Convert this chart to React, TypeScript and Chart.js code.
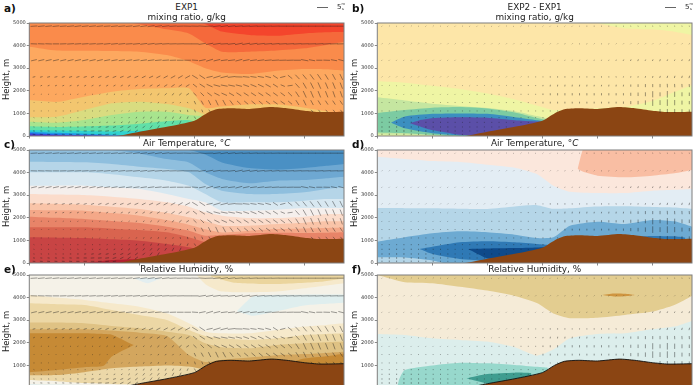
import React, { useEffect, useRef } from "react";
import { Chart, registerables } from "chart.js";

Chart.register(...registerables);

const FONT = "'DejaVu Sans', sans-serif";
const KM = [0, 50, 100, 150, 200, 250, 290, 320, 350, 400, 450, 500, 540, 572];
const TOP = [5200, 5200, 5200, 5200, 5200, 5200, 5200, 5200, 5200, 5200, 5200, 5200, 5200, 5200];

const TERRAIN_KM = [0, 120, 159, 200, 250, 300, 322, 340, 365, 400, 440, 468, 500, 528, 572];
const TERRAIN_H = [-60, -40, 0, 190, 410, 680, 1000, 1180, 1225, 1195, 1280, 1225, 1120, 1060, 1075];

// a) mixing ratio, EXP1
const A1 = [5100, 5100, 5100, 5100, 5100, 5100, 5100, 4950, 4620, 4470, 4440, 4540, 4590, 4600];
const A2 = [5100, 5100, 5100, 5100, 4950, 4720, 4540, 4100, 3730, 3730, 3780, 3880, 4030, 4170];
const A3 = [3950, 3780, 3770, 3760, 3730, 3580, 3310, 3000, 2810, 2740, 2890, 2960, 2950, 2890];
const A4 = [1590, 1510, 1740, 1960, 2080, 2110, 2110, 1250, 1300, 1400, 1400, 1250, 1100, 1000];
const A5 = [830, 850, 1150, 1445, 1520, 1416, 1224, 930, 600, 600, 600, 600, 600, 600];
const A6 = [634, 590, 708, 930, 1077, 1077, 930, 856, 500, 500, 500, 500, 500, 500];
const A7 = [430, 400, 420, 460, 540, 650, 700, 500, 300, 300, 300, 300, 300, 300];
const A8 = [270, 240, 220, 200, 230, 300, 300, 200, 100, 100, 100, 100, 100, 100];
const A9 = [190, 140, 100, 60, 20, 0, 0, 0, 0, 0, 0, 0, 0, 0];
const A10 = [120, 70, 40, 10, 0, 0, 0, 0, 0, 0, 0, 0, 0, 0];
const A11 = [70, 40, 20, 0, 0, 0, 0, 0, 0, 0, 0, 0, 0, 0];
const A_COLORS = ["#f4452c", "#f5693b", "#fa8b4b", "#fda85f", "#f3c66f", "#d9dc80", "#a8e48e", "#62e0a8", "#30d2d0", "#2098e8", "#3050e0", "#5a2cc8"];

// b) mixing ratio, difference
const B_TOP_KM = [400, 450, 500, 540, 572];
const B_TOP = [5000, 4760, 4720, 4617, 4470];
const B1 = [2420, 2360, 2220, 2080, 1880, 1620, 1350, 1150, 1170, 1230, 1290, 1550, 1950, 2250];
const B2 = [1710, 1570, 1430, 1330, 1240, 1100, 880, 700, 500, 500, 500, 500, 500, 500];
const B3 = [1020, 1150, 1250, 1280, 1220, 1040, 800, 640, 400, 400, 400, 400, 400, 400];
const B4_KM = [25, 50, 100, 150, 200, 250, 290, 310];
const B4_UP = [590, 860, 980, 1000, 980, 830, 700, 650];
const B4_LO = [590, 340, 120, 20, 0, 0, 0, 0];
const B5_KM = [59, 80, 100, 150, 200, 250, 290, 305];
const B5_UP = [560, 720, 790, 830, 810, 700, 640, 620];
const B5_LO = [560, 400, 260, 50, 0, 0, 0, 0];
const B6_KM = [0, 50, 100, 130];
const B6 = [150, 120, 50, 0];
const B7 = [70, 50, 10, 0];
const B_COLORS = ["#fde6a8", "#eff5a4", "#c5e6a0", "#7ccba2", "#3b8fc0", "#5b4fa8"];

// c) air temperature, EXP1
const C1 = [5100, 5100, 5100, 5100, 5100, 5100, 5000, 4800, 4450, 4200, 4130, 4200, 4300, 4380];
const C2 = [5100, 5100, 5100, 5000, 4850, 4600, 4450, 4010, 3720, 3530, 3640, 3670, 3750, 3820];
const C3 = [4480, 4470, 4455, 4380, 4263, 4160, 4012, 3496, 3200, 3053, 3053, 3127, 3275, 3350];
const C4 = [4012, 4012, 4012, 3930, 3790, 3643, 3422, 3053, 2685, 2685, 2685, 2758, 2832, 2832];
const C5 = [3422, 3422, 3422, 3350, 3275, 3053, 2832, 2685, 2316, 2316, 2360, 2434, 2434, 2434];
const C6 = [3053, 3030, 3009, 2930, 2832, 2685, 2493, 2242, 2095, 1991, 1991, 2050, 2168, 2168];
const C7 = [2640, 2610, 2581, 2490, 2390, 2212, 2020, 1844, 1652, 1652, 1726, 1785, 1844, 1844];
const C8 = [2345, 2330, 2316, 2210, 2095, 1903, 1696, 1490, 1350, 1430, 1500, 1530, 1550, 1570];
const C9 = [2050, 2000, 1947, 1860, 1770, 1608, 1430, 1210, 1250, 1320, 1340, 1330, 1340, 1360];
const C10 = [1578, 1578, 1578, 1520, 1460, 1357, 1135, 915, 700, 700, 700, 700, 700, 700];
const C11 = [1135, 1120, 1106, 1050, 988, 840, 693, 546, 400, 400, 400, 400, 400, 400];
const C12_KM = [100, 150, 200, 250, 270];
const C12 = [0, 130, 180, 250, 300];
const C_COLORS = ["#4a90c4", "#6ea8d2", "#8fbfde", "#b5d5e8", "#d8e8f1", "#f5efec", "#fbdccb", "#f9c4a8", "#f4a888", "#e88468", "#d9644f", "#c84444", "#b2202e"];

// d) air temperature, difference
const D_O_KM = [364, 377, 400, 450, 500, 540, 572];
const D_O_UP = [4160, 5200, 5200, 5200, 5200, 5200, 5200];
const D_O_LO = [4160, 4012, 3865, 3790, 3865, 3968, 4115];
const D1 = [4700, 4600, 4510, 4470, 4350, 4220, 3938, 3422, 3156, 3097, 3097, 3200, 3240, 3275];
const D2 = [2430, 2425, 2420, 2400, 2390, 2500, 2560, 2400, 2420, 2500, 2510, 2480, 2460, 2400];
const D3 = [944, 1135, 1312, 1400, 1357, 1253, 1106, 1135, 1652, 1829, 1726, 1903, 1844, 1608];
const D4_KM = [77, 100, 150, 200, 250, 290, 310];
const D4_UP = [620, 720, 915, 960, 915, 840, 800];
const D4_LO = [620, 400, 180, 100, 0, 0, 0];
const D5_KM = [480, 500, 540, 560];
const D5_UP = [1180, 1200, 1180, 1120];
const D5_LO = [900, 900, 900, 900];
const D6_KM = [165, 200, 250, 290, 305];
const D6_UP = [620, 640, 660, 690, 700];
const D6_LO = [620, 210, 100, 0, 0];
const D7_KM = [0, 50, 100, 120];
const D7 = [250, 240, 110, 0];
const D_COLORS = ["#fbe7dc", "#f9bea3", "#e3edf4", "#b5d6e8", "#6daad2", "#2f79b5", "#0f4a8a"];

// e) relative humidity, EXP1
const E1 = [4118, 4000, 3897, 3750, 3600, 3306, 2863, 2494, 2420, 2420, 2568, 2716, 2790, 2863];
const E2 = [3749, 3710, 3675, 3454, 3232, 3011, 2568, 2302, 2199, 2125, 2199, 2347, 2390, 2420];
const E3 = [2893, 2893, 2863, 2745, 2642, 2494, 2347, 1978, 1800, 1756, 1904, 1978, 2020, 2052];
const E4 = [2598, 2598, 2598, 2539, 2450, 2303, 1461, 1150, 1250, 1350, 1450, 1500, 1550, 1600];
const E5_KM = [0, 50, 100, 135, 150, 190];
const E5_UP = [2420, 2420, 2420, 2390, 2360, 1900];
const E5_LO = [700, 800, 920, 980, 1390, 1900];
const E6_KM = [470, 500, 540, 572];
const E6 = [1100, 1300, 1400, 1530];
const E7 = [560, 570, 700, 870, 950, 1000, 950, 800, 500, 500, 500, 500, 500, 500];
const E8 = [350, 300, 220, 180, 150, 100, 0, 0, 0, 0, 0, 0, 0, 0];
const E9_KM = [0, 50, 100];
const E9 = [170, 150, 130];
const E_R1_KM = [304, 322, 350, 400, 450, 500, 572];
const E_R1 = [5000, 4560, 4265, 4235, 4265, 4410, 4635];
const E_R2_KM = [330, 372, 450, 528, 572];
const E_R2 = [4930, 4660, 4600, 4700, 4850];
const E_B1_KM = [190, 215, 240];
const E_B1_UP = [4860, 4880, 4870];
const E_B1_LO = [4860, 4640, 4870];
const E_B2_KM = [377, 408, 500, 572];
const E_B2_UP = [3400, 4060, 4130, 4130];
const E_B2_LO = [3400, 3200, 3650, 3770];
const E_COLORS = ["#f5f2e8", "#f6e9cb", "#ecd7a5", "#dfc284", "#d3a65e", "#c68a35", "#ecd8a8", "#f5f2e8", "#dfeeee", "#ebd59d", "#e3eef0"];

// f) relative humidity, difference
const F1 = [5000, 4680, 4635, 4480, 4310, 4074, 3760, 3300, 3090, 3110, 3232, 3380, 3675, 4074];
const F2_KM = [407, 430, 450, 468];
const F2_UP = [4110, 4180, 4170, 4120];
const F2_LO = [4110, 4050, 4060, 4120];
const F3 = [2391, 2347, 2199, 2125, 2052, 1801, 1432, 1700, 2199, 2391, 2421, 2598, 2716, 2967];
const F4_KM = [36, 40, 50, 100, 150, 200, 250, 290, 310];
const F4 = [0, 400, 800, 1000, 1120, 1090, 1020, 940, 900];
const F5_KM = [162, 200, 250, 280];
const F5_UP = [430, 620, 680, 660];
const F5_LO = [430, 200, 0, 0];
const F_COLORS = ["#f5ebd7", "#e3cd90", "#cf9540", "#dceeec", "#97d8cc", "#3f9d90"];

// wind grid
const WIND_X = [8.5, 21.8, 35.1, 48.4, 61.7, 75, 88.3, 101.6, 114.9, 128.2, 141.5, 154.8, 168.1, 181.4, 194.7, 208, 221.3, 234.6, 247.9, 261.2, 274.5, 287.8, 301.1, 314.4, 327.7, 341, 354.3, 367.6, 380.9, 394.2, 407.5, 420.8, 434.1, 447.4, 460.7, 474, 487.3, 500.6, 513.9, 527.2, 540.5, 553.8, 567.1];
const WIND_H = [4860, 4077, 3353, 2614, 2230, 1846, 1477, 1108, 812, 605, 399, 222, 74];

const EXP1_U = [
  [31,31,30,31,31,32,31,31,31,30,31,31,32,31,31,31,32,32,33,33,32,33,33,34,33,34,34,34,35,35,35,35,35,34,35,35,35,35,35,35,35,34,35],
  [30,30,30,30,30,31,31,31,30,31,31,31,31,31,32,32,32,33,33,33,33,34,34,33,33,34,34,34,35,35,35,35,35,35,35,35,35,34,35,35,35,35,35],
  [26,27,27,27,27,27,28,28,28,27,27,28,28,28,28,29,30,30,30,30,30,30,28,30,31,30,31,32,31,30,31,31,32,33,32,33,32,33,28,28,30,28,27],
  [12,12,13,13,13,14,14,14,14,15,15,16,16,16,17,17,18,18,19,20,21,22,25,26,28,33,34,34,33,30,28,28,26,22,24,20,19,18,18,17,15,14,13],
  [7,7,8,8,8,8,8,8,8,8,9,9,9,9,10,11,12,13,14,15,15,16,18,24,27,30,31,30,28,26,27,26,24,22,19,23,18,15,14,13,12,12,11],
  [3,3,3,3,4,4,4,4,4,4,5,5,5,5,6,6,7,8,9,10,11,12,14,16,20,24,25,23,22,22,22,22,22,21,20,18,16,14,13,12,11,10,10],
  [1,1,1,1,1,1,2,2,2,2,2,2,2,3,3,3,4,4,5,5,5,4,7,10,11,12,13,15,17,18,18,18,19,20,20,18,14,12,12,12,12,12,12],
  [0,0,1,1,1,1,1,1,1,2,2,2,2,2,3,3,3,3,3,3,2,2,4,5,7,8,9,10,10,10,10,10,10,10,10,10,10,10,9,8,8,8,8],
  [2,2,2,2,2,2,2,2,2,3,3,3,3,3,4,4,4,4,4,5,5,5,6,6],
  [3,3,3,3,3,3,3,4,5,6,6,7,7,8,8,8,8,8,8,8,7,7],
  [5,5,5,5,5,6,7,9,11,12,13,13,13,13,12,11,10,9],
  [8,9,9,9,9,10,12,14,16,17,17,16,15,14,13],
  [12,13,13,13,13,14,15,15,16,16,16,15],
];
const EXP1_V = [
  [2,3,3,3,2,3,4,3,3,3,2,3,3,3,4,4,5,5,4,2,1,-1,-1,-2,1,4,5,4,3,2,2,1,1,1,0,0,0,0,0,0,0,0,0],
  [-1,-1,-1,0,1,2,2,2,2,2,3,3,3,2,3,4,4,3,2,1,1,0,0,5,6,5,2,4,7,6,5,4,3,3,2,2,2,1,1,2,2,1,1],
  [6,6,6,6,6,6,6,6,6,6,5,5,4,4,4,4,4,3,2,1,0,0,-2,6,9,7,4,4,8,6,4,4,3,2,1,1,0,-6,-5,0,-1,-5,-7],
  [3,3,3,3,4,4,4,4,5,5,6,6,6,7,7,8,8,9,10,11,12,12,-15,-17,6,10,8,4,-1,-3,-4,-5,-7,-14,6,-16,-20,-22,-24,-25,-24,-26,-27],
  [3,3,3,3,3,3,4,4,4,4,5,5,5,6,6,7,7,8,9,10,10,10,-14,-15,-12,-8,-6,-6,-7,-9,-11,-12,-13,-14,-8,3,-20,-26,-28,-29,-28,-29,-28],
  [1,1,1,1,2,2,2,2,2,2,3,3,3,3,4,5,6,7,8,9,9,8,-13,-16,-15,-12,-11,-13,-14,-14,-14,-14,-15,-15,-15,-18,-24,-30,-30,-29,-28,-28,-28],
  [1,1,1,1,1,1,1,1,1,1,2,2,2,3,3,4,5,6,6,6,3,-5,-15,-18,-22,-25,-24,-20,-16,-15,-15,-15,-14,-14,-14,-15,-22,-25,-22,-20,-18,-18,-18],
  [-1,-1,-1,0,0,0,0,0,0,1,1,2,3,4,5,6,7,7,7,6,-8,-10,-12,-12,-12,-12,-12,-12,-12,-12,-12,-12,-12,-12,-12,-12,-12,-12,-10,-10,-10,-10,-10],
  [-1,-1,-1,-1,-1,-1,0,0,0,0,1,3,4,5,7,8,9,9,9,10,10,11,-10,-12],
  [-1,-1,-1,-1,-1,-1,-1,0,1,2,2,3,5,7,9,10,10,11,12,14,15,15],
  [-1,-1,-1,-1,0,0,0,1,2,3,3,4,5,7,9,11,13,14],
  [-1,-1,-1,-1,-1,-1,0,0,1,1,2,4,7,9,9],
  [-1,-1,-1,-1,-1,-1,0,0,0,1,1,2],
];
const DIFF_U = [
  [1,1,1,1,1,1,1,1,1,1,1,1,1,1,1,1,1,1,1,1,1,1,1,1,1,1,1,1,2,2,2,2,2,3,3,3,3,3,3,4,4,4,4],
  [1,1,1,1,1,1,1,1,1,1,1,1,1,1,1,1,1,1,1,1,1,1,1,1,1,1,1,2,2,2,2,2,2,3,3,3,3,3,3,3,3,3,3],
  [1,1,1,1,1,1,1,1,1,1,1,1,1,1,1,1,1,1,1,1,1,1,1,1,1,1,1,1,1,1,1,2,2,3,3,3,3,3,3,3,3,3,3],
  [1,1,1,1,1,1,1,1,1,1,1,1,1,1,1,1,1,1,1,1,0,0,0,0,0,0,0,0,0,0,0,0,1,1,1,1,2,2,3,3,3,3,3],
  [1,1,1,1,1,1,1,1,1,1,1,1,1,1,1,1,1,1,1,0,0,0,-1,-1,-1,-1,-1,-1,-1,-1,-1,-1,-1,-1,0,0,0,0,0,1,1,1,1],
  [1,1,1,1,1,1,1,1,1,1,1,1,1,0,0,0,0,0,0,0,0,0,0,0,0,0,0,0,0,0,0,0,0,0,0,0,0,0,0,0,0,0,0],
  [1,1,1,1,1,1,1,1,1,1,1,1,1,0,0,0,0,0,0,0,0,0,0,0,0,0,0,0,0,0,0,0,0,0,0,0,0,0,0,0,0,0,0],
  [0,0,0,0,0,0,0,0,0,0,0,0,0,0,0,0,0,0,0,0,0,0,0,0,0,0,0,0,0,0,0,0,0,0,0,0,0,0,0,0,0,0,0],
  [0,0,0,0,0,0,0,0,0,0,0,0,0,0,0,0,0,0,0,0,0,0,0,0],
  [0,0,0,0,0,0,0,0,0,0,0,0,0,0,0,0,0,0,0,0,0,0],
  [0,0,0,0,0,0,0,0,0,0,0,0,0,0,0,0,0,0],
  [0,0,0,0,0,0,0,0,0,0,0,0,0,0,0],
  [0,0,0,0,0,0,0,0,0,0,0,0],
];
const DIFF_V = [
  [1,1,1,1,1,1,1,1,1,1,1,1,1,1,1,1,1,1,1,1,1,1,1,1,1,1,1,1,0,0,0,0,0,-1,-1,-1,-1,-1,-1,-1,-1,-1,-1],
  [1,1,1,1,1,1,1,1,1,1,1,1,1,1,1,1,1,1,1,1,1,1,1,1,1,2,1,1,1,2,1,1,2,3,3,3,3,3,3,3,3,3,4],
  [1,1,1,1,1,1,1,1,1,1,1,1,1,1,1,1,1,1,1,1,1,1,1,2,2,2,2,2,2,3,3,4,5,6,7,8,6,7,9,7,6,7,8],
  [1,1,1,1,1,1,1,1,1,1,1,1,1,1,1,1,1,1,1,1,2,2,2,-6,-6,-6,-5,-5,-5,-6,-6,-5,-5,5,6,6,7,8,9,10,10,10,11],
  [1,1,1,1,1,1,1,1,1,1,1,1,1,1,1,1,1,1,1,2,2,2,-6,-8,-8,-8,-8,-8,-8,-7,-7,-8,-8,-8,-10,-12,-14,-14,-15,-16,-15,-15,-14],
  [1,1,1,1,1,1,1,1,1,1,1,1,1,2,2,2,2,2,2,3,3,3,-7,-9,-10,-10,-10,-10,-10,-10,-10,-10,-10,-10,-14,-16,-18,-28,-18,-30,-24,-18,-16],
  [-2,-2,-2,-2,-2,-2,-2,-2,-2,-2,-2,-2,-2,-2,-3,-3,-3,-3,-3,-3,-3,-5,-8,-8,-8,-8,-8,-8,-8,-8,-8,-8,-8,-10,-14,-16,-20,-30,-22,-30,-24,-18,-15],
  [-3,-3,-3,-3,-3,-3,-3,-3,-3,-3,-3,-3,-3,-3,-3,-3,-3,-3,-3,-3,-3,-4,-5,-5,-5,-5,-5,-5,-5,-5,-5,-5,-5,-5,-5,-5,-5,-8,-18,-18,-18,-16,-14],
  [-4,-4,-4,-5,-5,-5,-4,-4,-4,-4,-4,-3,-3,-3,-3,-3,-3,-3,-3,-4,-4,-4,-5,-5],
  [-5,-6,-6,-6,-6,-5,-5,-5,-5,-4,-4,-4,-3,-3,-3,-3,-3,-3,-3,-3,-3,-3],
  [-6,-7,-7,-7,-6,-6,-6,-5,-5,-5,-4,-4,-4,-3,-3,-3,-3,-3],
  [-7,-8,-8,-8,-7,-7,-7,-6,-6,-5,-5,-4,-3,-3,-3],
  [-6,-7,-7,-7,-7,-6,-6,-6,-5,-4,-3,-2],
];

const terrainAt = (x: number) => {
  for (let i = 1; i < TERRAIN_KM.length; i++) {
    if (x <= TERRAIN_KM[i]) {
      const t = (x - TERRAIN_KM[i - 1]) / (TERRAIN_KM[i] - TERRAIN_KM[i - 1]);
      return TERRAIN_H[i - 1] + t * (TERRAIN_H[i] - TERRAIN_H[i - 1]);
    }
  }
  return TERRAIN_H[TERRAIN_H.length - 1];
};

const pts = (xs: number[], ys: number[]) => xs.map((x, i) => ({ x, y: ys[i] }));
const curve = (ys: number[], color: string, xs: number[] = KM) => [
  { type: "line", data: pts(xs, ys), backgroundColor: color, borderWidth: 0, pointRadius: 0, fill: "origin", tension: 0.2 },
];
const band = (xs: number[], up: number[], lo: number[], color: string) => [
  { type: "line", data: pts(xs, up), backgroundColor: color, borderWidth: 0, pointRadius: 0, fill: "+1", tension: 0.2 },
  { type: "line", data: pts(xs, lo), borderWidth: 0, pointRadius: 0, fill: false, tension: 0.2 },
];

const wind = (U: number[][], V: number[][]) => {
  const out: { x: number; y: number; u: number; v: number }[] = [];
  U.forEach((row, r) =>
    row.forEach((u, i) => {
      if (WIND_H[r] > terrainAt(WIND_X[i])) out.push({ x: WIND_X[i], y: WIND_H[r], u, v: V[r][i] });
    })
  );
  return out;
};

const PX_PER_TENTH = 0.22;
const arrows = (U: number[][], V: number[][]) => ({
  type: "scatter",
  data: wind(U, V),
  pointStyle: "line",
  pointBorderColor: "rgba(25,25,25,0.72)",
  pointBorderWidth: 0.6,
  pointRadius: (c: any) => (c.raw ? Math.max(0.45, (Math.hypot(c.raw.u, c.raw.v) * PX_PER_TENTH) / 2) : 0.5),
  pointRotation: (c: any) => (c.raw ? (Math.atan2(-c.raw.v, c.raw.u) * 180) / Math.PI : 0),
});

const terrain = (outline: boolean) => [
  {
    type: "line",
    data: pts(TERRAIN_KM, TERRAIN_H),
    backgroundColor: "#8B4513",
    borderColor: "#111",
    borderWidth: outline ? 0.9 : 0,
    pointRadius: 0,
    fill: "start",
    tension: 0.2,
  },
];

const PANELS = [
  {
    col: 0, top: 23, h: 113, letter: "a)", title: ["EXP1", "mixing ratio, g/kg"], key: true,
    layers: () => [
      ...curve(TOP, A_COLORS[0]), ...curve(A1, A_COLORS[1]), ...curve(A2, A_COLORS[2]), ...curve(A3, A_COLORS[3]),
      ...curve(A4, A_COLORS[4]), ...curve(A5, A_COLORS[5]), ...curve(A6, A_COLORS[6]), ...curve(A7, A_COLORS[7]),
      ...curve(A8, A_COLORS[8]), ...curve(A9, A_COLORS[9]), ...curve(A10, A_COLORS[10]), ...curve(A11, A_COLORS[11]),
    ],
    arrows: () => arrows(EXP1_U, EXP1_V), outline: false,
  },
  {
    col: 1, top: 23, h: 113, letter: "b)", title: ["EXP2 - EXP1", "mixing ratio, g/kg"], key: true,
    layers: () => [
      ...curve(TOP, B_COLORS[0]), ...band(B_TOP_KM, [5200, 5200, 5200, 5200, 5200], B_TOP, B_COLORS[1]),
      ...curve(B1, B_COLORS[1]), ...curve(B2, B_COLORS[2]), ...curve(B3, B_COLORS[3]),
      ...curve(B6, B_COLORS[2], B6_KM), ...curve(B7, B_COLORS[1], B6_KM),
      ...band(B4_KM, B4_UP, B4_LO, B_COLORS[4]), ...band(B5_KM, B5_UP, B5_LO, B_COLORS[5]),
    ],
    arrows: () => arrows(DIFF_U, DIFF_V), outline: false,
  },
  {
    col: 0, top: 149.5, h: 112.8, letter: "c)", title: ["Air Temperature, °C"], key: false,
    layers: () => [
      ...curve(TOP, C_COLORS[0]), ...curve(C1, C_COLORS[1]), ...curve(C2, C_COLORS[2]), ...curve(C3, C_COLORS[3]),
      ...curve(C4, C_COLORS[4]), ...curve(C5, C_COLORS[5]), ...curve(C6, C_COLORS[6]), ...curve(C7, C_COLORS[7]),
      ...curve(C8, C_COLORS[8]), ...curve(C9, C_COLORS[9]), ...curve(C10, C_COLORS[10]), ...curve(C11, C_COLORS[11]),
      ...curve(C12, C_COLORS[12], C12_KM),
    ],
    arrows: () => arrows(EXP1_U, EXP1_V), outline: false,
  },
  {
    col: 1, top: 149.5, h: 112.8, letter: "d)", title: ["Air Temperature, °C"], key: false,
    layers: () => [
      ...curve(TOP, D_COLORS[0]), ...band(D_O_KM, D_O_UP, D_O_LO, D_COLORS[1]),
      ...curve(D1, D_COLORS[2]), ...curve(D2, D_COLORS[3]), ...curve(D3, D_COLORS[4]),
      ...curve(D7, D_COLORS[3], D7_KM),
      ...band(D4_KM, D4_UP, D4_LO, D_COLORS[5]), ...band(D5_KM, D5_UP, D5_LO, D_COLORS[5]),
      ...band(D6_KM, D6_UP, D6_LO, D_COLORS[6]),
    ],
    arrows: () => arrows(DIFF_U, DIFF_V), outline: false,
  },
  {
    col: 0, top: 275, h: 112.8, letter: "e)", title: ["Relative Humidity, %"], key: false,
    layers: () => [
      ...curve(TOP, E_COLORS[0]),
      ...band(E_R1_KM, [5200, 5200, 5200, 5200, 5200, 5200, 5200], E_R1, E_COLORS[1]),
      ...band(E_R2_KM, [5200, 5200, 5200, 5200, 5200], E_R2, E_COLORS[9]),
      ...band(E_B1_KM, E_B1_UP, E_B1_LO, E_COLORS[10]),
      ...band(E_B2_KM, E_B2_UP, E_B2_LO, E_COLORS[8]),
      ...curve(E1, E_COLORS[1]), ...curve(E2, E_COLORS[2]), ...curve(E3, E_COLORS[3]), ...curve(E4, E_COLORS[4]),
      ...band(E5_KM, E5_UP, E5_LO, E_COLORS[5]), ...curve(E6, E_COLORS[5], E6_KM),
      ...curve(E7, E_COLORS[6]), ...curve(E8, E_COLORS[7]), ...curve(E9, E_COLORS[8], E9_KM),
    ],
    arrows: () => arrows(EXP1_U, EXP1_V), outline: true,
  },
  {
    col: 1, top: 275, h: 112.8, letter: "f)", title: ["Relative Humidity, %"], key: false,
    layers: () => [
      ...curve(TOP, F_COLORS[0]),
      ...band(KM, TOP, F1, F_COLORS[1]), ...band(F2_KM, F2_UP, F2_LO, F_COLORS[2]),
      ...curve(F3, F_COLORS[3]), ...curve(F4, F_COLORS[4], F4_KM), ...band(F5_KM, F5_UP, F5_LO, F_COLORS[5]),
    ],
    arrows: () => arrows(DIFF_U, DIFF_V), outline: true,
  },
];

const PAD_TOP = 8;
const AXIS_W = 29.3;
const BOTTOM = 7;
const COL_W = 348;

const frame = {
  id: "frame",
  afterDatasetsDraw(chart: any) {
    const { ctx, chartArea: a } = chart;
    ctx.save();
    ctx.strokeStyle = "#7d7d7d";
    ctx.lineWidth = 1;
    ctx.strokeRect(a.left, a.top, a.right - a.left, a.bottom - a.top);
    ctx.restore();
  },
};

function Panel({ p }: { p: (typeof PANELS)[number] }) {
  const ref = useRef<HTMLCanvasElement>(null);
  useEffect(() => {
    const layered = [...p.layers(), ...terrain(p.outline)];
    const all: any[] = [p.arrows(), ...layered.reverse()];
    all.forEach((d, i) => (d.order = i));
    all.forEach((d) => {
      if (d.fill === "+1") d.fill = "-1";
    });
    const chart = new Chart(ref.current!, {
      type: "line",
      data: { datasets: all },
      plugins: [frame],
      options: {
        animation: false,
        responsive: false,
        devicePixelRatio: 1,
        layout: { autoPadding: false, padding: { top: PAD_TOP, right: 4, left: 0, bottom: 0 } },
        plugins: { legend: { display: false }, tooltip: { enabled: false }, title: { display: false } },
        scales: {
          x: {
            type: "linear",
            min: 0,
            max: 572,
            afterFit: (s: any) => { s.height = BOTTOM; },
            border: { display: false },
            grid: { drawOnChartArea: false, tickLength: 2.5, tickColor: "#555", tickWidth: 0.7 },
            ticks: { stepSize: 100, includeBounds: false, callback: () => "", maxRotation: 0, padding: 0 },
          },
          y: {
            type: "linear",
            min: 0,
            max: 5000,
            afterFit: (s: any) => { s.width = AXIS_W; },
            border: { display: false },
            title: { display: true, text: "Height, m", color: "#222", padding: { top: 2, bottom: 0 }, font: { family: FONT, size: 8.4 } },
            grid: { drawOnChartArea: false, tickLength: 2.5, tickColor: "#555", tickWidth: 0.7 },
            ticks: { stepSize: 1000, padding: 1, color: "#333", font: { family: FONT, size: 5 }, callback: (v: any) => String(v) },
          },
        },
      },
    } as any);
    return () => chart.destroy();
  }, [p]);
  return (
    <canvas
      ref={ref}
      width={COL_W}
      height={Math.ceil(p.h + PAD_TOP + BOTTOM)}
      style={{ position: "absolute", left: p.col * COL_W, top: p.top - PAD_TOP, display: "block" }}
    />
  );
}

const textBase: React.CSSProperties = { position: "absolute", fontFamily: FONT, color: "#222", whiteSpace: "nowrap", lineHeight: 1 };

function Labels({ p }: { p: (typeof PANELS)[number] }) {
  const cx = p.col * COL_W + (AXIS_W + 344) / 2;
  const lines = p.title;
  return (
    <>
      <div style={{ ...textBase, left: p.col * COL_W + 4, top: p.top - (p.key ? 20 : 11), fontWeight: 700, fontSize: 10.5, color: "#111" }}>{p.letter}</div>
      {lines.map((t, i) => (
        <div key={t} style={{ ...textBase, left: cx, top: p.top - (lines.length - i) * 10.4 + (p.key ? 0.8 : 0.2), fontSize: 8.9, transform: "translateX(-50%)" }}>
          {t.includes("°C") ? (<>Air Temperature, °<i>C</i></>) : t}
        </div>
      ))}
      {p.key && (
        <>
          <div style={{ position: "absolute", left: p.col * COL_W + 317, top: 7, width: 11, height: 1, background: "#666" }} />
          <div style={{ ...textBase, left: p.col * COL_W + 337, top: 4, fontSize: 7 }}>5</div>
          <div style={{ ...textBase, left: p.col * COL_W + 341.5, top: 3, fontSize: 3.5 }}>m</div>
          <div style={{ ...textBase, left: p.col * COL_W + 342, top: 8, fontSize: 3.5 }}>s</div>
        </>
      )}
    </>
  );
}

export default function App() {
  return (
    <div style={{ position: "fixed", left: 0, top: 0, width: 696, height: 385, overflow: "hidden", background: "#fff", filter: "blur(0.35px)" }}>
      {PANELS.map((p) => (
        <Panel key={p.letter} p={p} />
      ))}
      {PANELS.map((p) => (
        <Labels key={p.letter} p={p} />
      ))}
    </div>
  );
}
